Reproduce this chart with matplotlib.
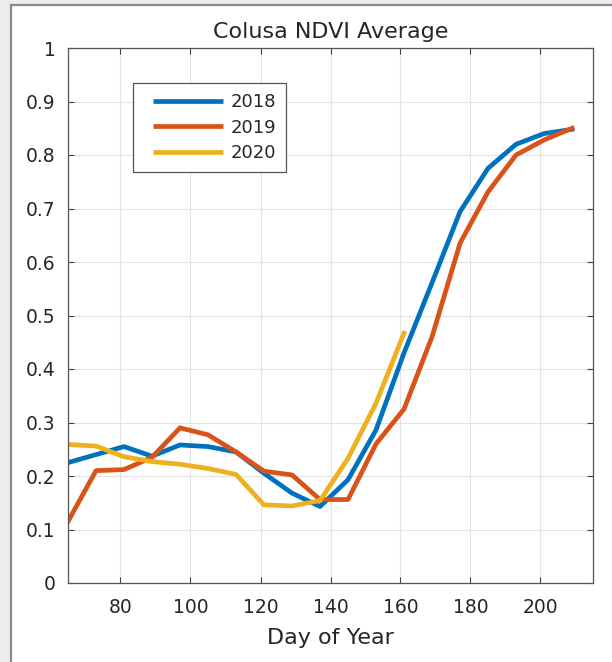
import matplotlib
matplotlib.use("Agg")
import matplotlib.pyplot as plt
from matplotlib.patches import Rectangle
from matplotlib.lines import Line2D
from matplotlib.legend_handler import HandlerBase

days = [65, 73, 81, 89, 97, 105, 113, 121, 129, 137, 145, 153, 161, 169, 177, 185, 193, 201, 209]
ndvi_2018 = [0.225, 0.240, 0.255, 0.237, 0.258, 0.255, 0.245, 0.205, 0.168, 0.143, 0.193,
             0.286, 0.430, 0.561, 0.694, 0.775, 0.820, 0.840, 0.848]
ndvi_2019 = [0.115, 0.210, 0.212, 0.235, 0.290, 0.277, 0.245, 0.209, 0.202, 0.156, 0.156,
             0.260, 0.325, 0.460, 0.635, 0.731, 0.800, 0.828, 0.850]
days_2020 = [65, 73, 81, 89, 97, 105, 113, 121, 129, 137, 145, 153, 161]
ndvi_2020 = [0.259, 0.256, 0.236, 0.227, 0.222, 0.214, 0.203, 0.146, 0.144, 0.154, 0.233,
             0.336, 0.467]

xticks = [80, 100, 120, 140, 160, 180, 200]
yticks = [0, 0.1, 0.2, 0.3, 0.4, 0.5, 0.6, 0.7, 0.8, 0.9, 1]
ytick_labels = ["0", "0.1", "0.2", "0.3", "0.4", "0.5", "0.6", "0.7", "0.8", "0.9", "1"]

plt.rcParams['font.family'] = ['DejaVu Sans']

W, H = 612, 662
fig = plt.figure(figsize=(W / 100, H / 100), dpi=100)
fig.patch.set_facecolor('white')

# slide-like frame around the chart
fig.patches.append(Rectangle((0, 0), 11 / W, 1, transform=fig.transFigure,
                             facecolor='#ececec', edgecolor='none', zorder=0))
fig.patches.append(Rectangle((0, 1 - 5 / H), 1, 5 / H, transform=fig.transFigure,
                             facecolor='#ececec', edgecolor='none', zorder=0))
fig.lines.append(Line2D([11 / W, 11 / W], [0, 1 - 5 / H], transform=fig.transFigure,
                        color='#8a8a8a', lw=1.6))
fig.lines.append(Line2D([11 / W, 1], [1 - 5 / H, 1 - 5 / H], transform=fig.transFigure,
                        color='#8a8a8a', lw=1.6))

ax = fig.add_axes([68 / W, 1 - 583 / H, (593 - 68) / W, (583 - 48) / H])

LW = 3.4
c18, c19, c20 = '#0072BD', '#D95319', '#EDB120'
l1, = ax.plot(days, ndvi_2018, color=c18, lw=LW, label='2018')
l2, = ax.plot(days, ndvi_2019, color=c19, lw=LW, label='2019')
l3, = ax.plot(days_2020, ndvi_2020, color=c20, lw=LW, label='2020')

ax.set_xlim(65, 215)
ax.set_ylim(0, 1)
ax.set_xticks(xticks)
ax.set_yticks(yticks)
ax.set_yticklabels(ytick_labels)
ax.grid(True, color='#e3e3e3', lw=0.8)
ax.set_axisbelow(True)
ax.tick_params(direction='in', top=True, right=True, length=4, width=0.8,
               colors='#404040', labelcolor='#262626', labelsize=13.5)
ax.tick_params(axis='x', pad=11)
ax.tick_params(axis='y', pad=9)
for s in ax.spines.values():
    s.set_color('#555555')
    s.set_linewidth(0.9)

ax.set_title('Colusa NDVI Average', fontsize=16, color='#262626', pad=7.5)
ax.set_xlabel('Day of Year', fontsize=16, color='#262626', labelpad=7.5)


class OffsetLineHandler(HandlerBase):
    def create_artists(self, legend, orig_handle, xdescent, ydescent, width, height,
                       fontsize, trans):
        off = 7.0
        y = height / 2 - ydescent
        line = Line2D([-xdescent + off, -xdescent + width], [y, y],
                      color=orig_handle.get_color(), lw=orig_handle.get_linewidth(),
                      solid_capstyle='butt')
        line.set_transform(trans)
        return [line]


leg = ax.legend(handles=[l1, l2, l3], loc='upper left',
                bbox_to_anchor=((133 - 68) / (593 - 68), (583 - 83) / (583 - 48)),
                borderaxespad=0, fontsize=13, handlelength=4.45, handletextpad=0.4,
                borderpad=0.55, labelspacing=0.42, fancybox=False, framealpha=1,
                edgecolor='#555555',
                handler_map={Line2D: OffsetLineHandler()})
leg.get_frame().set_linewidth(0.9)
for t in leg.get_texts():
    t.set_color('#262626')

fig.savefig('out.png', dpi=100)
